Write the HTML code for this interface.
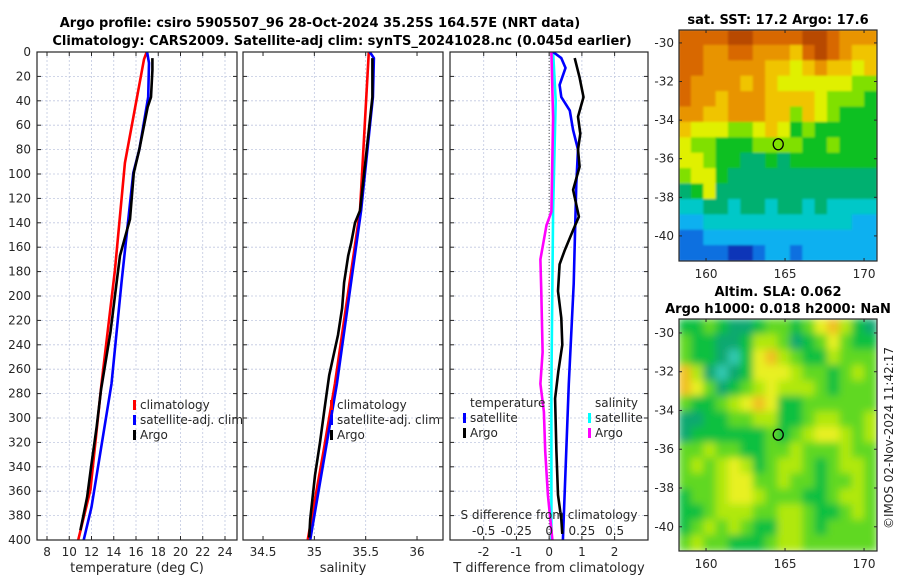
<!DOCTYPE html>
<html><head><meta charset="utf-8">
<style>
html,body{margin:0;padding:0;background:#fff;}
svg{display:block;font-family:"DejaVu Sans","Liberation Sans",sans-serif;}
.t{font-size:12px;fill:#262626;}
.b{font-size:13px;font-weight:bold;fill:#000;}
</style></head>
<body>
<svg id="fig" width="900" height="580" viewBox="0 0 900 580" xmlns="http://www.w3.org/2000/svg">
<defs>
<clipPath id="c1"><rect x="37" y="52" width="200" height="488"/></clipPath>
<clipPath id="c2"><rect x="243" y="52" width="200" height="488"/></clipPath>
<clipPath id="c3"><rect x="450" y="52" width="198" height="488"/></clipPath>
<clipPath id="cm1"><rect x="679" y="30" width="198" height="231"/></clipPath>
<clipPath id="cm2"><rect x="679" y="319" width="198" height="232"/></clipPath>
<filter id="bl1" x="-5%" y="-5%" width="110%" height="110%"><feGaussianBlur stdDeviation="1"/></filter>
<filter id="bl2" x="-5%" y="-5%" width="110%" height="110%"><feGaussianBlur stdDeviation="4"/></filter>
</defs>
<text class="b" x="320" y="27" text-anchor="middle">Argo profile: csiro 5905507_96 28-Oct-2024 35.25S 164.57E (NRT data)</text>
<text class="b" x="342" y="45" text-anchor="middle">Climatology: CARS2009. Satellite-adj clim: synTS_20241028.nc (0.045d earlier)</text>
<text class="b" x="778" y="24" text-anchor="middle">sat. SST: 17.2 Argo: 17.6</text>
<text class="b" x="778" y="296" text-anchor="middle">Altim. SLA: 0.062</text>
<text class="b" x="778" y="313" text-anchor="middle">Argo h1000: 0.018 h2000: NaN</text>
<text class="t" transform="translate(893,438) rotate(-90)" text-anchor="middle">©IMOS 02-Nov-2024 11:42:17</text>
<g id="layer"></g>
</svg>
<script>
// ---- profile data (depth in dbar) ----
const tClimDepth = [0, 6, 91, 179, 272, 359, 400];
const tClimVal   = [16.96, 16.72, 15.0, 14.1, 12.9, 11.9, 10.8];
const tSatDepth  = [0, 9, 37, 80, 99, 189, 272, 373, 400];
const tSatVal    = [17.0, 17.17, 17.1, 16.3, 15.76, 14.7, 13.8, 12.0, 11.3];
const tArgoDepth = [5, 15, 37, 45, 80, 99, 137, 167, 189, 230, 277, 307, 340, 365, 392];
const tArgoVal   = [17.47, 17.47, 17.35, 17.05, 16.3, 15.8, 15.46, 14.56, 14.26, 13.7, 12.85, 12.47, 11.96, 11.6, 11.0];

const sClimDepth = [0, 130, 272, 327, 400];
const sClimVal   = [35.53, 35.445, 35.2, 35.09, 34.935];
const sSatDepth  = [0, 5, 37, 130, 272, 400];
const sSatVal    = [35.54, 35.58, 35.57, 35.455, 35.22, 34.96];
const sArgoDepth = [5, 37, 80, 130, 140, 156, 167, 189, 210, 232, 265, 292, 320, 347, 383, 398];
const sArgoVal   = [35.565, 35.565, 35.51, 35.445, 35.396, 35.36, 35.33, 35.29, 35.27, 35.23, 35.145, 35.1, 35.055, 35.006, 34.96, 34.95];

const dTSatDepth  = [0, 5, 13, 27, 37, 48, 64, 80, 108, 190, 272, 400];
const dTSatVal    = [0.12, 0.37, 0.5, 0.32, 0.37, 0.63, 0.73, 0.88, 0.83, 0.75, 0.6, 0.42];
const dTArgoDepth = [5, 21, 37, 53, 67, 80, 94, 113, 135, 146, 163, 174, 196, 218, 240, 262, 284, 327, 363, 383, 395];
const dTArgoVal   = [0.78, 0.93, 1.05, 0.88, 0.95, 0.88, 0.93, 0.73, 0.91, 0.73, 0.47, 0.32, 0.27, 0.37, 0.4, 0.28, 0.18, 0.22, 0.27, 0.37, 0.4];
const dSSatDepth  = [0, 40, 130, 272, 400];
const dSSatVal    = [0.03, 0.05, 0.03, 0.017, 0.017];
const dSArgoDepth = [0, 54, 131, 142, 170, 197, 246, 272, 295, 327, 363, 400];
const dSArgoVal   = [0.017, 0.03, 0.017, -0.02, -0.067, -0.06, -0.05, -0.067, -0.04, -0.03, -0.01, 0.025];

const depthTicks = [0,20,40,60,80,100,120,140,160,180,200,220,240,260,280,300,320,340,360,380,400];
const tTicks = [8,10,12,14,16,18,20,22,24];
const sTicks = [34.5,35,35.5,36];
const dTTicks = [-2,-1,0,1,2];
const dSTicks = [-0.5,-0.25,0,0.25,0.5];
const dSTickLabels = ['-0.5','-0.25','0','0.25','0.5'];

// ---- map data ----
const sstLevels = [
[10,10,10,10,11,11,10,10,10,10,11,11,10,9,9,9],
[10,10,9,9,10,10,9,9,9,8,10,11,10,9,8,8],
[10,10,9,9,9,9,9,8,8,7,8,9,8,8,7,8],
[10,9,9,9,9,8,9,8,7,7,7,7,7,7,6,6],
[10,9,9,8,9,9,9,8,8,8,8,7,6,6,6,5],
[9,9,8,8,9,9,9,8,8,6,8,7,6,5,5,5],
[8,7,7,7,6,6,7,8,7,5,6,5,5,5,5,5],
[7,6,6,5,5,5,6,6,6,6,5,5,6,5,5,5],
[7,7,6,5,5,4,4,5,4,5,5,5,5,5,5,5],
[6,7,7,5,4,4,4,4,4,4,4,4,4,4,4,4],
[4,5,7,4,4,4,4,4,4,4,4,4,4,4,4,4],
[3,3,4,4,3,4,4,3,4,4,3,4,3,3,3,3],
[2,2,3,3,3,3,3,3,3,3,3,3,3,3,2,2],
[1,1,2,2,2,2,2,2,2,2,2,2,2,2,2,2],
[1,1,1,1,0,0,1,2,2,1,2,2,2,2,2,2]];
const slaLevels = [
[2,2,3,2,1,1,2,3,3,2,3,5,6,4,2,1],
[3,2,2,1,1,2,4,4,3,1,2,3,5,3,2,2],
[3,2,2,1,0,2,5,6,4,3,2,2,4,3,3,3],
[6,4,1,0,1,2,5,5,5,4,3,3,2,3,4,3],
[6,5,3,1,2,3,4,5,4,4,4,3,2,3,3,3],
[3,2,2,3,4,5,6,5,2,2,3,3,3,3,3,3],
[1,1,2,2,3,3,4,4,2,2,3,4,4,3,3,4],
[1,2,2,2,2,2,2,3,2,3,4,5,5,4,3,4],
[3,3,4,3,3,2,2,3,3,4,3,3,3,4,3,3],
[3,4,3,4,5,4,2,3,4,4,3,2,3,4,4,3],
[3,3,3,4,5,5,3,3,4,3,3,2,3,3,4,3],
[2,3,3,4,5,5,4,3,3,3,2,2,3,4,4,3],
[2,2,3,4,4,4,3,3,4,4,3,2,2,3,4,3],
[2,3,4,3,4,3,2,2,4,4,3,2,3,3,3,3],
[3,4,3,3,2,2,2,3,4,4,3,3,3,3,3,3]];
const sstColors = ['#0836b8','#1070e0','#10b0f0','#00c8c8','#00b070','#10c020','#80e000','#e0f000','#f0c400','#e89400','#d86800','#b84800'];
const slaColors = ['#30c8b0','#10a870','#10c040','#60d820','#b0e810','#e8f020','#f0c020'];
const lonTicks = [160,165,170];
const latTicks = [-30,-32,-34,-36,-38,-40];
const argoLon = 164.57, argoLat = -35.25;

const NS='http://www.w3.org/2000/svg';
const layer=document.getElementById('layer');
function mk(tag,attrs,parent){const e=document.createElementNS(NS,tag);for(const k in attrs)e.setAttribute(k,attrs[k]);(parent||layer).appendChild(e);return e;}
const Y0=52,Y1=540;
function yD(d){return Y0+d/400*(Y1-Y0);}

function panel(name,x0,x1,vmin,vmax,clip){
  const g=mk('g',{});
  
  
  const xs=v=>x0+(v-vmin)/(vmax-vmin)*(x1-x0);
  return {g,xs,x0,x1,clip};
}
function grid(p,xticks){
  for(const d of depthTicks){
    const l=mk('line',{x1:p.x0,x2:p.x1,y1:yD(d),y2:yD(d),stroke:'#c0c8e0','stroke-width':0.8,'stroke-dasharray':'2,2'},p.g);
    
    
  }
  for(const v of xticks){
    const l=mk('line',{x1:p.xs(v),x2:p.xs(v),y1:Y0,y2:Y1,stroke:'#c0c8e0','stroke-width':0.8,'stroke-dasharray':'2,2'},p.g);
    
    
  }
}
function frame(p,xticks,labels,showY){
  const r=mk('rect',{x:p.x0,y:Y0,width:p.x1-p.x0,height:Y1-Y0,fill:'none',stroke:'#262626','stroke-width':1.2},p.g);
  
  
  xticks.forEach((v,i)=>{
    const x=p.xs(v);
    mk('line',{x1:x,x2:x,y1:Y1,y2:Y1-4,stroke:'#262626'},p.g);
    mk('line',{x1:x,x2:x,y1:Y0,y2:Y0+4,stroke:'#262626'},p.g);
    const t=mk('text',{x:x,y:Y1+16,'text-anchor':'middle',class:'t'},p.g);
    t.textContent=labels[i];
    
    
  });
  for(const d of depthTicks){
    mk('line',{x1:p.x0,x2:p.x0+4,y1:yD(d),y2:yD(d),stroke:'#262626'},p.g);
    mk('line',{x1:p.x1,x2:p.x1-4,y1:yD(d),y2:yD(d),stroke:'#262626'},p.g);
    if(showY){
      const t=mk('text',{x:p.x0-6,y:yD(d)+4,'text-anchor':'end',class:'t'},p.g);
      t.textContent=d;
      
      
    }
  }
}
function line(p,depths,vals,color,name,xs){
  const f=xs||p.xs;
  const pts=depths.map((d,i)=>f(vals[i]).toFixed(1)+','+yD(d).toFixed(1)).join(' ');
  const pl=mk('polyline',{points:pts,fill:'none',stroke:color,'stroke-width':2.6,'stroke-linejoin':'round','clip-path':'url(#'+p.clip+')'},p.g);
  
  
}
function legend(p,x,y0,items){
  items.forEach((it,i)=>{
    const y=y0+i*15;
    mk('rect',{x:x,y:y-9,width:3,height:10,fill:it[0]},p.g);
    const t=mk('text',{x:x+7,y:y,class:'t'},p.g);
    t.textContent=it[1];
    
    
  });
}
function xlabel(p,txt,name){
  const t=mk('text',{x:(p.x0+p.x1)/2,y:572,'text-anchor':'middle',class:'t',style:'font-size:13px'},p.g);
  t.textContent=txt;
  
  
}

// Panel 1: temperature
const p1=panel('temperature-panel',37,237,7.1,25.08,'c1');
grid(p1,tTicks);
line(p1,tClimDepth,tClimVal,'#ff0000','temp-climatology-line');
line(p1,tSatDepth,tSatVal,'#0000ff','temp-satellite-line');
line(p1,tArgoDepth,tArgoVal,'#000000','temp-argo-line');
frame(p1,tTicks,tTicks.map(String),true);
legend(p1,133,409,[['#ff0000','climatology'],['#0000ff','satellite-adj. clim'],['#000000','Argo']]);
xlabel(p1,'temperature (deg C)','temperature-axis-title');

// Panel 2: salinity
const p2=panel('salinity-panel',243,443,34.305,36.253,'c2');
grid(p2,[35,35.5]);
line(p2,sClimDepth,sClimVal,'#ff0000','sal-climatology-line');
line(p2,sSatDepth,sSatVal,'#0000ff','sal-satellite-line');
line(p2,sArgoDepth,sArgoVal,'#000000','sal-argo-line');
frame(p2,sTicks,sTicks.map(String),false);
legend(p2,330,409,[['#ff0000','climatology'],['#0000ff','satellite-adj. clim'],['#000000','Argo']]);
xlabel(p2,'salinity','salinity-axis-title');

// Panel 3: differences
const p3=panel('difference-panel',450,648,-3.03,3.02,'c3');
const xsS=s=>p3.xs(s*4);
grid(p3,dTTicks);
const zl=mk('line',{x1:p3.xs(0),x2:p3.xs(0),y1:Y0,y2:Y1,stroke:'#555','stroke-width':1,'stroke-dasharray':'1,2'},p3.g);


line(p3,dSSatDepth,dSSatVal,'#00ffff','sdiff-satellite-line',xsS);
line(p3,dSArgoDepth,dSArgoVal,'#ff00ff','sdiff-argo-line',xsS);
line(p3,dTSatDepth,dTSatVal,'#0000ff','tdiff-satellite-line');
line(p3,dTArgoDepth,dTArgoVal,'#000000','tdiff-argo-line');
frame(p3,dTTicks,dTTicks.map(String),false);
dSTicks.forEach((s,i)=>{
  const t=mk('text',{x:xsS(s),y:535,'text-anchor':'middle',class:'t'},p3.g);
  t.textContent=dSTickLabels[i];
  
  
});
{const t=mk('text',{x:549,y:519,'text-anchor':'middle',class:'t'},p3.g);
t.textContent='S difference from climatology';

}
{const t=mk('text',{x:470,y:407,class:'t'},p3.g);t.textContent='temperature';

}
{const t=mk('text',{x:595,y:407,class:'t'},p3.g);t.textContent='salinity';

}
legend(p3,463,422,[['#0000ff','satellite'],['#000000','Argo']]);
legend(p3,588,422,[['#00ffff','satellite'],['#ff00ff','Argo']]);
xlabel(p3,'T difference from climatology','t-diff-axis-title');

// Maps
const LON0=158.29,LON1=170.82;
function map(name,x0,y0,w,h,lat0,lat1,levels,colors,clip,filt){
  const g=mk('g',{});
  
  
  const xs=lon=>x0+(lon-LON0)/(LON1-LON0)*w;
  const ys=lat=>y0+(lat0-lat)/(lat0-lat1)*h;
  const cg=mk('g',{'clip-path':'url(#'+clip+')'},g);
  const ig=mk('g',{filter:'url(#'+filt+')'},cg);
  const rows=levels.length,cols=levels[0].length;
  const cw=w/cols,ch=h/rows;
  levels.forEach((row,r)=>row.forEach((v,c)=>{
    const cell=mk('rect',{x:(x0+c*cw-0.5).toFixed(1),y:(y0+r*ch-0.5).toFixed(1),width:(cw+1).toFixed(1),height:(ch+1).toFixed(1),fill:colors[v]},ig);
    
    
  }));
  const fr=mk('rect',{x:x0,y:y0,width:w,height:h,fill:'none',stroke:'#262626','stroke-width':1.2},g);
  
  
  for(const lon of lonTicks){
    const x=xs(lon);
    mk('line',{x1:x,x2:x,y1:y0+h,y2:y0+h-3,stroke:'#262626'},g);
    mk('line',{x1:x,x2:x,y1:y0,y2:y0+3,stroke:'#262626'},g);
    const t=mk('text',{x:x,y:y0+h+17,'text-anchor':'middle',class:'t'},g);
    t.textContent=lon;
    
    
  }
  for(const lat of latTicks){
    const y=ys(lat);
    mk('line',{x1:x0,x2:x0+3,y1:y,y2:y,stroke:'#262626'},g);
    mk('line',{x1:x0+w,x2:x0+w-3,y1:y,y2:y,stroke:'#262626'},g);
    const t=mk('text',{x:x0-5,y:y+4,'text-anchor':'end',class:'t'},g);
    t.textContent=lat;
    
    
  }
  const c=mk('ellipse',{cx:xs(argoLon),cy:ys(argoLat),rx:5,ry:5.5,fill:'none',stroke:'#000','stroke-width':1.3},g);
  
  
}
map('sst-map',679,30,198,231,-29.33,-41.3,sstLevels,sstColors,'cm1','bl1');
map('sla-map',679,319,198,232,-29.28,-41.25,slaLevels,slaColors,'cm2','bl2');
</script>
</body></html>
